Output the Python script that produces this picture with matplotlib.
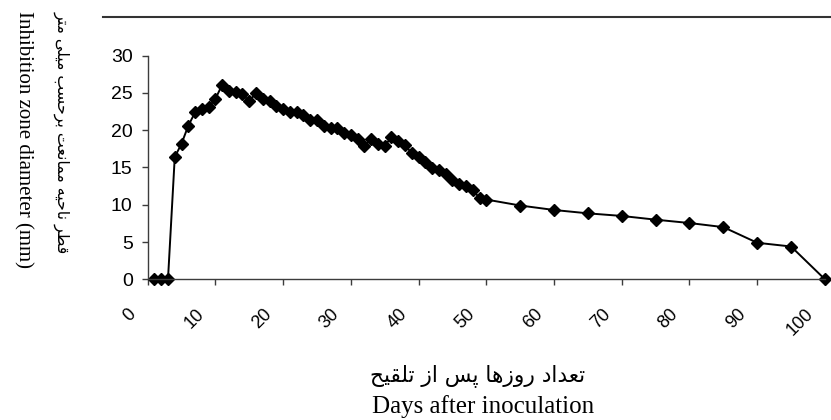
import matplotlib
matplotlib.use("Agg")
import matplotlib.pyplot as plt
from matplotlib.lines import Line2D
from matplotlib.transforms import ScaledTranslation

# روزهای پس از تلقیح و قطر ناحیه ممانعت (mm)
days = list(range(1, 51)) + [55, 60, 65, 70, 75, 80, 85, 90, 95, 100]
zone_mm = [0, 0, 0, 16.4, 18.2, 20.6, 22.4, 22.9, 23.1, 24.2,
           26.1, 25.3, 25.1, 24.8, 23.9, 25.0, 24.2, 23.9, 23.2, 22.9,
           22.5, 22.5, 22.0, 21.4, 21.4, 20.6, 20.3, 20.3, 19.6, 19.3,
           18.8, 17.9, 18.8, 18.2, 17.9, 19.1, 18.5, 18.0, 16.9, 16.4,
           15.7, 14.9, 14.6, 14.1, 13.3, 12.8, 12.5, 12.0, 10.9, 10.7,
           9.9, 9.3, 8.85, 8.5, 8.0, 7.55, 7.0, 4.9, 4.4, 0]
x_ticks = list(range(0, 101, 10))
y_ticks = list(range(0, 31, 5))

ylabel_fa = "قطر ناحیه ممانعت برحسب میلی متر"
ylabel_en = "Inhibition zone diameter (mm)"
xlabel_fa = "تعداد روزها پس از تلقیح"
xlabel_en = "Days after inoculation"

# matplotlib does no Arabic shaping, so pick contextual forms by hand
# forms: isolated, final, initial, medial
FORMS = {
    "ا": ("\uFE8D", "\uFE8E"),
    "د": ("\uFEA9", "\uFEAA"),
    "ر": ("\uFEAD", "\uFEAE"),
    "ز": ("\uFEAF", "\uFEB0"),
    "و": ("\uFEED", "\uFEEE"),
    "ب": ("\uFE8F", "\uFE90", "\uFE91", "\uFE92"),
    "ت": ("\uFE95", "\uFE96", "\uFE97", "\uFE98"),
    "ح": ("\uFEA1", "\uFEA2", "\uFEA3", "\uFEA4"),
    "س": ("\uFEB1", "\uFEB2", "\uFEB3", "\uFEB4"),
    "ط": ("\uFEC1", "\uFEC2", "\uFEC3", "\uFEC4"),
    "ع": ("\uFEC9", "\uFECA", "\uFECB", "\uFECC"),
    "ق": ("\uFED5", "\uFED6", "\uFED7", "\uFED8"),
    "ل": ("\uFEDD", "\uFEDE", "\uFEDF", "\uFEE0"),
    "م": ("\uFEE1", "\uFEE2", "\uFEE3", "\uFEE4"),
    "ن": ("\uFEE5", "\uFEE6", "\uFEE7", "\uFEE8"),
    "ه": ("\uFEE9", "\uFEEA", "\uFEEB", "\uFEEC"),
    "ی": ("\uFEEF", "\uFEF0", "\uFEF3", "\uFEF4"),
    "پ": ("\uFB56", "\uFB57", "\uFB58", "\uFB59"),
}


def shape_fa(text):
    out = []
    for i, ch in enumerate(text):
        if ch not in FORMS:
            out.append(ch)
            continue
        prev = text[i - 1] if i > 0 else " "
        nxt = text[i + 1] if i + 1 < len(text) else " "
        join_prev = prev in FORMS and len(FORMS[prev]) == 4
        join_next = len(FORMS[ch]) == 4 and nxt in FORMS
        f = FORMS[ch]
        if join_prev and join_next:
            out.append(f[3])
        elif join_prev:
            out.append(f[1])
        elif join_next:
            out.append(f[2])
        else:
            out.append(f[0])
    return "".join(out)[::-1]


fig = plt.figure(figsize=(8.31, 4.20), dpi=100)
ax = fig.add_axes([0.1777, 0.335, 0.815, 0.5324])

ax.plot(days, zone_mm, color="black", lw=1.4, marker="D", markersize=6.5,
        markerfacecolor="black", markeredgecolor="black", clip_on=False)

ax.set_xlim(0, 100)
ax.set_ylim(0, 30)
ax.set_xticks(x_ticks)
ax.set_yticks(y_ticks)
for s in ["top", "right"]:
    ax.spines[s].set_visible(False)
for s in ["left", "bottom"]:
    ax.spines[s].set_color("#3c3c3c")
    ax.spines[s].set_linewidth(1.0)

ax.tick_params(axis="x", direction="out", length=4, width=1.0, color="#3c3c3c",
               pad=15, labelsize=13)
ax.tick_params(axis="y", direction="out", length=4.5, width=1.0, color="#3c3c3c",
               pad=6.3, labelsize=14)
for lab in ax.get_xticklabels() + ax.get_yticklabels():
    lab.set_fontfamily("Liberation Sans")
shift = ScaledTranslation(-8 / 100, 0, fig.dpi_scale_trans)
for lab in ax.get_xticklabels():
    lab.set_rotation(45)
    lab.set_ha("right")
    lab.set_va("top")
    lab.set_transform(lab.get_transform() + shift)

# the line across the top of the chart frame
fig.add_artist(Line2D([103 / 831, 1.0], [1 - 16.5 / 420] * 2, transform=fig.transFigure,
                      color="#333333", lw=1.5))

fig.text(62 / 831, 1 - 132 / 420, shape_fa(ylabel_fa), rotation=270, ha="center",
         va="center", fontsize=11.3, family="DejaVu Sans")
fig.text(23 / 831, 1 - 140 / 420, ylabel_en, rotation=270, ha="center", va="center",
         fontsize=15, family="Liberation Serif")
fig.text(478 / 831, 1 - 376 / 420, shape_fa(xlabel_fa), ha="center", va="center",
         fontsize=15.7, family="DejaVu Sans")
fig.text(483 / 831, 1 - 407 / 420, xlabel_en, ha="center", va="center",
         fontsize=18, family="Liberation Serif")

fig.savefig("out.png", dpi=100)
